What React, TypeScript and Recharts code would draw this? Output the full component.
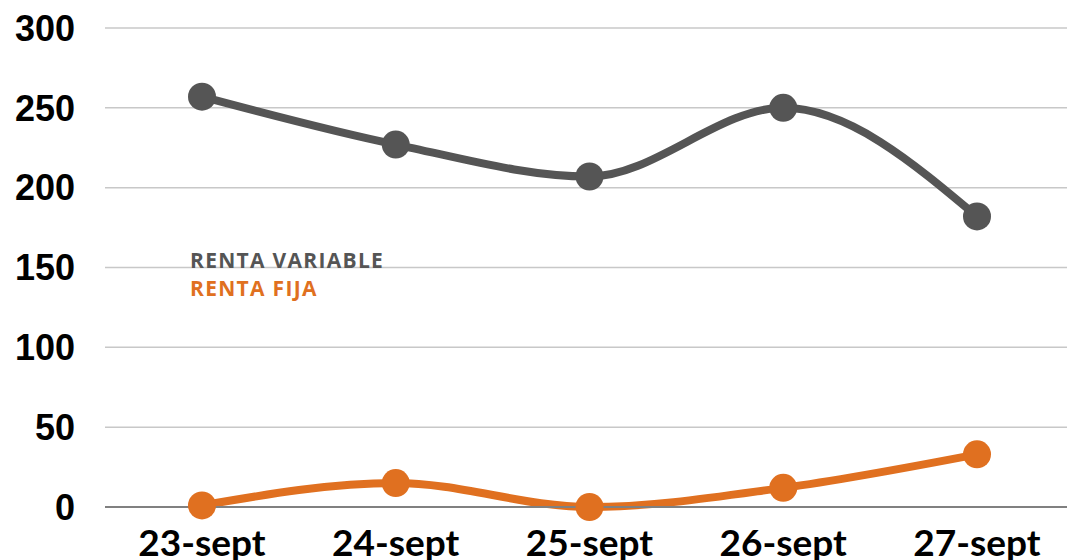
import React from "react";
import { LineChart, Line, XAxis, YAxis, CartesianGrid } from "recharts";

const categories = ["23-sept", "24-sept", "25-sept", "26-sept", "27-sept"];
const rentaVariable = [257, 227, 207, 250, 182];
const rentaFija = [1, 15, 0, 12, 33];
const yTicks = [0, 50, 100, 150, 200, 250, 300];

const GRAY = "#555555";
const ORANGE = "#E07020";

const data = categories.map((c, i) => ({
  name: c,
  variable: rentaVariable[i],
  fija: rentaFija[i],
}));

export default function App() {
  return (
    <div style={{ position: "absolute", left: 0, top: 0, width: 1067, height: 560, overflow: "hidden", background: "#fff" }}>
      <LineChart
        width={1080}
        height={560}
        data={data}
        margin={{ top: 28, right: 6, bottom: 0, left: 0 }}
      >
        <CartesianGrid vertical={false} stroke="#c8c8c8" strokeWidth={1.5} />
        <XAxis
          dataKey="name"
          height={53}
          padding={{ left: 97, right: 97 }}
          tickLine={false}
          axisLine={{ stroke: "#808080", strokeWidth: 2 }}
          tick={{ fill: "#000", fontSize: 37, fontWeight: 700, fontFamily: "Lato" }}
          tickMargin={17}
          interval={0}
        />
        <YAxis
          domain={[0, 300]}
          ticks={yTicks}
          width={105}
          tickLine={false}
          axisLine={false}
          tickSize={0}
          tickMargin={30}
          tick={{ fill: "#000", fontSize: 36, fontWeight: 700, fontFamily: "Liberation Sans" }}
        />
        <Line
          type="monotone"
          dataKey="variable"
          name="RENTA VARIABLE"
          stroke={GRAY}
          strokeWidth={8}
          dot={{ r: 14, fill: GRAY, stroke: GRAY, strokeWidth: 0 }}
          isAnimationActive={false}
        />
        <Line
          type="monotone"
          dataKey="fija"
          name="RENTA FIJA"
          stroke={ORANGE}
          strokeWidth={8}
          dot={{ r: 14, fill: ORANGE, stroke: ORANGE, strokeWidth: 0 }}
          isAnimationActive={false}
        />
      </LineChart>
      <div style={{ position: "absolute", left: 190, top: 246, fontFamily: "Open Sans", fontWeight: 700, fontSize: 21, lineHeight: "28px", letterSpacing: 1.3 }}>
        <div style={{ color: GRAY }}>RENTA VARIABLE</div>
        <div style={{ color: ORANGE }}>RENTA FIJA</div>
      </div>
    </div>
  );
}
